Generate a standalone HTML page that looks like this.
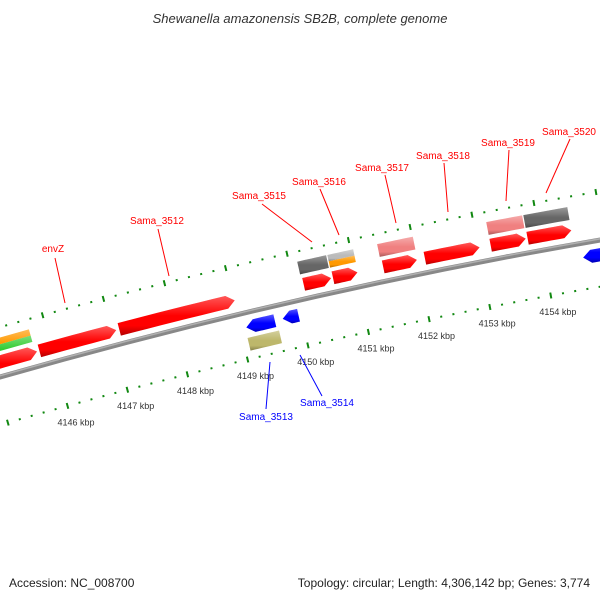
<!DOCTYPE html>
<html><head><meta charset="utf-8"><style>
html,body{margin:0;padding:0;background:#fff;overflow:hidden;}
svg{display:block;font-family:"Liberation Sans","DejaVu Sans",sans-serif;}
</style></head><body>
<svg id="map" width="600" height="600" viewBox="0 0 600 600">
<defs>
<clipPath id="frame"><rect x="0" y="0" width="600" height="600"/></clipPath>
<linearGradient id="gradV" x1="0" y1="0" x2="0" y2="1">
<stop offset="0" stop-color="#fff" stop-opacity="0.35"/>
<stop offset="0.5" stop-color="#fff" stop-opacity="0"/>
<stop offset="0.75" stop-color="#000" stop-opacity="0"/>
<stop offset="1" stop-color="#000" stop-opacity="0.3"/>
</linearGradient>
</defs>
<text x="300" y="23" text-anchor="middle" font-size="13" font-style="italic" fill="#333">Shewanella amazonensis SB2B, complete genome</text>
<g clip-path="url(#frame)">
<g id="rulers"></g>
<g id="backbone-g"></g>
<g id="features"></g>
<g id="labels"></g>
</g>
<text x="9" y="587" font-size="12" fill="#222">Accession: NC_008700</text>
<text x="590" y="587" text-anchor="end" font-size="12" fill="#222">Topology: circular; Length: 4,306,142 bp; Genes: 3,774</text>
</svg>
<script>
// ---- data ----
const geneNames  = ['g0','envZ','Sama_3512','Sama_3516','g4','Sama_3517','Sama_3518','Sama_3519','Sama_3520'];
const geneStart  = [4144.5,4145.80,4147.12,4150.15,4150.63,4151.45,4152.13,4153.20,4153.80];
const geneEnd    = [4145.76,4147.07,4149.02,4150.60,4151.03,4152.00,4153.02,4153.77,4154.51];
const revNames   = ['Sama_3513','Sama_3514','g_rev'];
const revStart   = [4149.10,4149.70,4154.62];
const revEnd     = [4149.57,4149.96,4155.5];
const boxNames   = ['left-orange','left-green','Sama_3515','Sama_3516b-top','Sama_3516b-bottom','Sama_3517-pink','Sama_3519-pink','Sama_3520-gray','Sama_3513-khaki'];
const boxStart   = [4144.5,4144.5,4150.13,4150.62,4150.62,4151.43,4153.20,4153.80,4149.08];
const boxEnd     = [4145.73,4145.73,4150.60,4151.04,4151.04,4152.01,4153.78,4154.51,4149.60];
const boxSlot    = ['outerA','outerB','outer','outerA','outerB','outer','outer','outer','inner'];
const boxColor   = ['#ff9900','#33cc33','#666666','#bbbbbb','#ff9900','#f08080','#f08080','#666666','#bdb76b'];
const tickMajors = [4146,4147,4148,4149,4150,4151,4152,4153,4154];
const tickLabels = ['4146 kbp','4147 kbp','4148 kbp','4149 kbp','4150 kbp','4151 kbp','4152 kbp','4153 kbp','4154 kbp'];
const annotText  = ['envZ','Sama_3512','Sama_3515','Sama_3516','Sama_3517','Sama_3518','Sama_3519','Sama_3520','Sama_3513','Sama_3514'];
const annotColor = ['red','red','red','red','red','red','red','red','blue','blue'];
const annotLayout= [[53,252,55,258,65,303],[157,224,158,229,169,276],[259,199,262,204,312,242],[319,185,320,189,339,235],
                    [382,171,385,175,396,223],[443,159,444,163,448,212],[508,146,509,150,506,201],[569,135,570,139,546,193],
                    [266,420,270,362,266,409],[327,406,300,355,322,396]];
// ---- geometry ----
const CX=1570.8, CY=5874, R=5717;
const RUP=5765, RLO=5671;
function phi(k){return -0.2355+0.01093*(k-4149);}
function P(k,r){const f=phi(k);return [CX+r*Math.sin(f),CY-r*Math.cos(f)];}
const NS='http://www.w3.org/2000/svg';
function mk(tag,attrs,parent){const e=document.createElementNS(NS,tag);for(const k in attrs)e.setAttribute(k,attrs[k]);parent.appendChild(e);return e;}
function arcPath(k1,k2,r1,r2,tip){
  const pts=[];const h=0.13;const rm=(r1+r2)/2;
  let a=k1,b=k2;
  if(tip===1){b=Math.max(k1,k2-h);}
  if(tip===-1){a=Math.min(k2,k1+h);}
  const n=8;
  for(let i=0;i<=n;i++)pts.push(P(a+(b-a)*i/n,r2));
  if(tip===1)pts.push(P(k2,rm));
  for(let i=n;i>=0;i--)pts.push(P(a+(b-a)*i/n,r1));
  if(tip===-1)pts.push(P(k1,rm));
  return 'M'+pts.map(p=>p[0].toFixed(2)+','+p[1].toFixed(2)).join('L')+'Z';
}
const rul=document.getElementById('rulers');
for(let i=4144*5;i<=4156*5;i++){
  const k=i/5;const major=(i%5===0);
  [RUP,RLO].forEach(function(r){
    let p1,p2;
    if(major){p1=P(k,r-3);p2=P(k,r+3);}else{p1=P(k,r-1);p2=P(k,r+1);}
    const t=mk('line',{x1:p1[0],y1:p1[1],x2:p2[0],y2:p2[1],stroke:'#118811','stroke-width':2},rul);
    
    
  });
}
tickMajors.forEach(function(k,i){
  const p=P(k,RLO-17);
  const t=mk('text',{x:p[0]+4,y:p[1]+3,'text-anchor':'middle','font-size':'9',fill:'#333'},rul);
  t.textContent=tickLabels[i];
  
  
});
const bbg=document.getElementById('backbone-g');
const bbA=P(4144,R), bbB=P(4156,R);
const bbd='M'+bbA[0]+','+bbA[1]+' A'+R+','+R+' 0 0 1 '+bbB[0]+','+bbB[1];
const bb=mk('path',{d:bbd,fill:'none',stroke:'#888','stroke-width':5},bbg);


const bbA2=P(4144,R+1.2), bbB2=P(4156,R+1.2);
const bb2=mk('path',{d:'M'+bbA2[0]+','+bbA2[1]+' A'+(R+1.2)+','+(R+1.2)+' 0 0 1 '+bbB2[0]+','+bbB2[1],fill:'none',stroke:'#b0b0b0','stroke-width':1.5},bbg);


const fg=document.getElementById('features');
function feat(d,color,name){
  const e=mk('path',{d:d,fill:color},fg);
  
  
  const s=mk('path',{d:d,fill:'url(#gradV)'},fg);
  
  
}
geneStart.forEach(function(s,i){feat(arcPath(s,geneEnd[i],R+8,R+21,1),'#ff0000','gene-'+geneNames[i].toLowerCase());});
revStart.forEach(function(s,i){feat(arcPath(s,revEnd[i],R-21,R-8,-1),'#0000ff','gene-'+revNames[i].toLowerCase());});
boxStart.forEach(function(s,i){
  let r1,r2;const sl=boxSlot[i];
  if(sl==='outer'){r1=R+25;r2=R+38;}
  else if(sl==='outerA'){r1=R+31.5;r2=R+38;}
  else if(sl==='outerB'){r1=R+25;r2=R+31.5;}
  else {r1=R-38;r2=R-25;}
  feat(arcPath(s,boxEnd[i],r1,r2,0),boxColor[i],'feature-'+boxNames[i].toLowerCase());
});
const lg=document.getElementById('labels');
annotText.forEach(function(t,i){
  const L=annotLayout[i];
  const ln=mk('line',{x1:L[2],y1:L[3],x2:L[4],y2:L[5],stroke:annotColor[i],'stroke-width':1},lg);
  
  
  const tx=mk('text',{x:L[0],y:L[1],'text-anchor':'middle','font-size':'10',fill:annotColor[i]},lg);
  tx.textContent=t;
  
  
});
</script>
</body></html>
